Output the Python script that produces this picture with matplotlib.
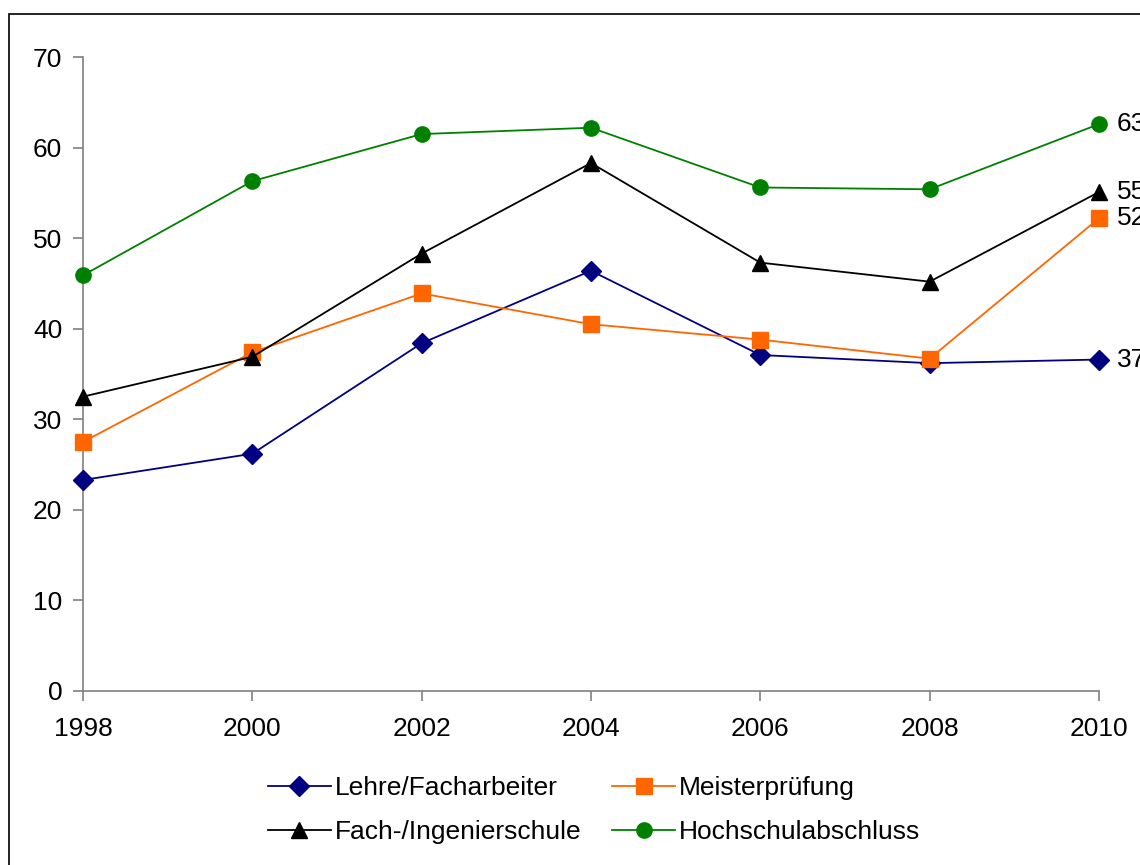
import matplotlib
matplotlib.use("Agg")
import matplotlib.pyplot as plt
from matplotlib.patches import Rectangle

plt.rcParams['font.family'] = ['Liberation Sans', 'DejaVu Sans']

years = [1998, 2000, 2002, 2004, 2006, 2008, 2010]
lehre = [23.3, 26.2, 38.4, 46.4, 37.1, 36.2, 36.6]
meister = [27.5, 37.4, 43.9, 40.5, 38.8, 36.7, 52.2]
fachschule = [32.5, 36.9, 48.3, 58.3, 47.3, 45.2, 55.1]
hochschule = [45.9, 56.3, 61.5, 62.2, 55.6, 55.4, 62.6]

series = [
    ('Lehre/Facharbeiter', lehre, '#000080', 'D', 10),
    ('Meisterprüfung', meister, '#FF6600', 's', 11),
    ('Fach-/Ingenierschule', fachschule, '#000000', '^', 12),
    ('Hochschulabschluss', hochschule, '#008000', 'o', 11),
]

fig = plt.figure(figsize=(11.4, 8.65), dpi=100)
ax = fig.add_axes([0.0728, 0.2012, 0.8912, 0.7328])

# outer chart frame
fig.patches.append(Rectangle((9 / 1140, -0.5), 2.0, 1.5 - 14 / 865, transform=fig.transFigure,
                             fill=False, edgecolor='black', linewidth=1.2, clip_on=False))

lines = []
for name, vals, col, mk, ms in series:
    ln, = ax.plot(years, vals, color=col, marker=mk, markersize=ms, linewidth=1.3,
                  markeredgecolor=col, label=name, clip_on=False, zorder=3)
    lines.append(ln)
    ax.annotate(f"{vals[-1]:.0f}", xy=(years[-1], vals[-1]), xytext=(13, 0),
                textcoords='offset points', va='center', ha='left', fontsize=19,
                annotation_clip=False)

ax.set_xlim(1998, 2010)
ax.set_ylim(0, 70)
ax.set_xticks(years)
ax.set_yticks(range(0, 71, 10))
for s in ['top', 'right']:
    ax.spines[s].set_visible(False)
for s in ['left', 'bottom']:
    ax.spines[s].set_color('#808080')
    ax.spines[s].set_linewidth(1.2)
ax.tick_params(colors='#808080', labelcolor='black', labelsize=19, length=7, width=1.2, direction='out')
ax.tick_params(axis='x', pad=12)
ax.tick_params(axis='y', pad=8)

# legend fills row by row: Lehre, Meister / Fach, Hochschule
order = [lines[0], lines[2], lines[1], lines[3]]
fig.legend(handles=order, loc='upper left', bbox_to_anchor=(0.214, 0.13), ncol=2,
           frameon=False, fontsize=19, handlelength=2.4, columnspacing=1.15,
           handletextpad=0.15, labelspacing=0.75)

fig.savefig('out.png', dpi=100)
